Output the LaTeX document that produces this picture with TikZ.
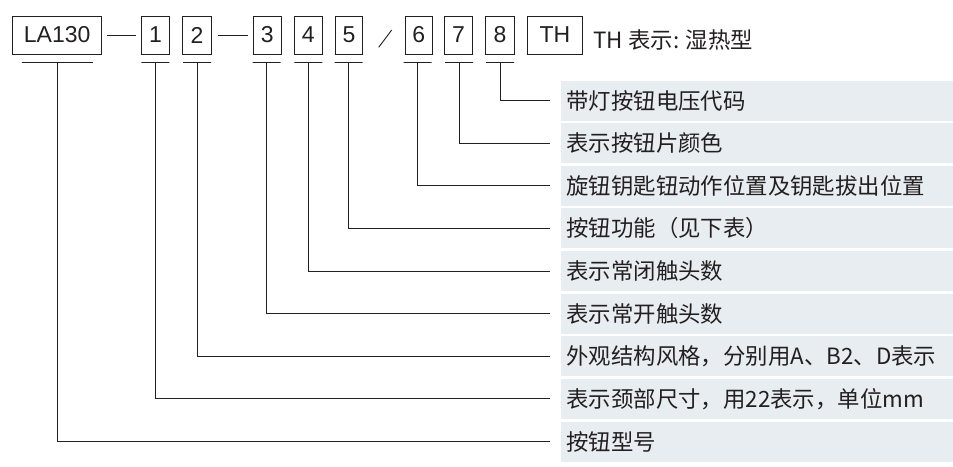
\documentclass[tikz,border=0pt]{standalone}
\usepackage{fontspec}
\newfontfamily\cjk{Noto Sans CJK SC}
\newfontfamily\lat{Liberation Sans}
\definecolor{ink}{HTML}{231F20}
\definecolor{bandfill}{HTML}{E8EDF1}
\tikzset{cell/.style={draw,inner sep=0pt,minimum height=38pt,minimum width=#1,font=\lat\fontsize{23}{23}\selectfont}}
\tikzset{rule/.style={draw,inner sep=0pt,minimum height=0pt,minimum width=#1}}
\tikzset{band/.style={fill=bandfill,anchor=west,inner xsep=6pt,inner ysep=0pt,minimum height=40pt,text width=381pt,align=left,text height=18pt,text depth=1pt,font=\cjk\fontsize{22.4}{22.4}\selectfont}}
\tikzset{lead/.style={shorten >=10pt}}

\begin{document}
\begin{tikzpicture}[x=1pt,y=-1pt,line width=1pt,color=ink]
        \useasboundingbox (0,0) rectangle (953,466);
        % code boxes
        \node[cell=89pt] (b0) at (57.2,35) {LA130};
        \node[cell=27.6pt] (b1) at (155.5,35) {1};
        \node[cell=28.3pt] (b2) at (196.9,35) {2};
        \node[cell=27.7pt] (b3) at (267.2,35) {3};
        \node[cell=28pt] (b4) at (308.3,35) {4};
        \node[cell=27.7pt] (b5) at (348.9,35) {5};
        \node[cell=27.3pt] (b6) at (418.7,35) {6};
        \node[cell=28.3pt] (b7) at (458.4,35) {7};
        \node[cell=28.3pt] (b8) at (499.9,35) {8};
        \node[cell=55.4pt] (th) at (555,35) {TH};
        \node[anchor=west,inner sep=0pt,font=\cjk\fontsize{22.4}{22.4}\selectfont] (note) at (593,40) {TH 表示: 湿热型};
        \draw[shorten <=4.3pt,shorten >=5pt] (b0) -- (b1);
        \draw[shorten <=6pt,shorten >=5.3pt] (b2) -- (b3);
        \coordinate (s0) at (378.7,47.3);
        \coordinate (s1) at (391.7,30);
        \draw[line width=0.9pt] (s0) -- (s1);
        % underlines
        \node[rule=71pt] (u0) at (57.3,62.7) {};
        \node[rule=28pt] (u1) at (155.3,62.7) {};
        \node[rule=28pt] (u2) at (197.2,62.7) {};
        \node[rule=28pt] (u3) at (266.5,62.7) {};
        \node[rule=28pt] (u4) at (308.3,62.7) {};
        \node[rule=28pt] (u5) at (348.7,62.7) {};
        \node[rule=28pt] (u6) at (417.5,62.7) {};
        \node[rule=28pt] (u7) at (459,62.7) {};
        \node[rule=28pt] (u8) at (500.2,62.7) {};
        % meanings
        \node[band] (d8) at (560,100.5) {带灯按钮电压代码};
        \node[band] (d7) at (560,143.1) {表示按钮片颜色};
        \node[band] (d6) at (560,185.8) {旋钮钥匙钮动作位置及钥匙拔出位置};
        \node[band] (d5) at (560,228.4) {按钮功能（见下表）};
        \node[band] (d4) at (560,271) {表示常闭触头数};
        \node[band] (d3) at (560,313.6) {表示常开触头数};
        \node[band] (d2) at (560,356.3) {外观结构风格，分别用A、B2、D表示};
        \node[band] (d1) at (560,398.9) {表示颈部尺寸，用22表示，单位mm};
        \node[band] (d0) at (560,441.5) {按钮型号};
        \draw[lead] (u8) |- (d8);
        \draw[lead] (u7) |- (d7);
        \draw[lead] (u6) |- (d6);
        \draw[lead] (u5) |- (d5);
        \draw[lead] (u4) |- (d4);
        \draw[lead] (u3) |- (d3);
        \draw[lead] (u2) |- (d2);
        \draw[lead] (u1) |- (d1);
        \draw[lead] (u0) |- (d0);
      \end{tikzpicture}
\end{document}
